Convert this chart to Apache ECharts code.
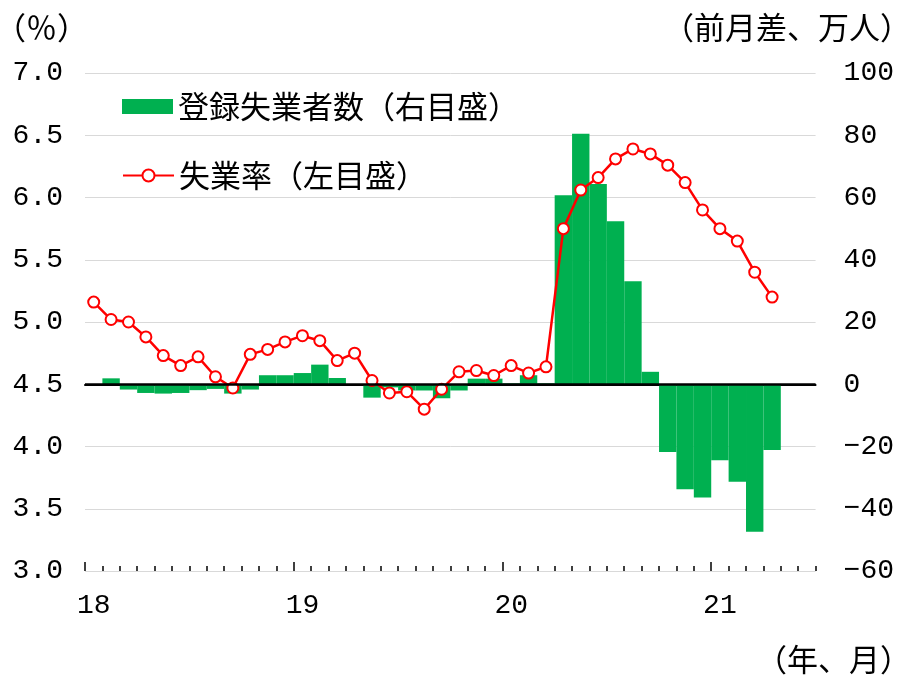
<!DOCTYPE html>
<html>
<head>
<meta charset="utf-8">
<script src="https://cdn.jsdelivr.net/npm/echarts@6/dist/echarts.min.js"></script>
<style>
  html, body { margin: 0; padding: 0; background: #fff; }
  #chart { width: 897px; height: 677px; }
</style>
</head>
<body>
<div id="chart"></div>
<script>
// 月（カテゴリ）
const months = [
  '18/1', '18/2', '18/3', '18/4', '18/5', '18/6', '18/7', '18/8', '18/9', '18/10', '18/11', '18/12',
  '19/1', '19/2', '19/3', '19/4', '19/5', '19/6', '19/7', '19/8', '19/9', '19/10', '19/11', '19/12',
  '20/1', '20/2', '20/3', '20/4', '20/5', '20/6', '20/7', '20/8', '20/9', '20/10', '20/11', '20/12',
  '21/1', '21/2', '21/3', '21/4', '21/5', '21/6'
];

// 登録失業者数（前月差、万人）右目盛
const registered = [
  0, 1.9, -1.7, -2.8, -3.0, -2.8, -1.9, -1.5, -3.0, -1.7, 2.9, 2.9,
  3.6, 6.3, 2.0, 0, -4.3, -1.0, -2.0, -2.0, -4.5, -2.0, 1.8, 1.8,
  0.3, 2.9, 0.3, 60.7, 80.5, 64.3, 52.4, 33.1, 4.0, -21.8, -33.7, -36.4,
  -24.4, -31.3, -47.4, -21.1
];

// 失業率（%）左目盛
const rate = [
  5.16, 5.02, 5.00, 4.88, 4.73, 4.65, 4.72, 4.56, 4.47, 4.74, 4.78, 4.84,
  4.89, 4.85, 4.69, 4.75, 4.53, 4.43, 4.44, 4.30, 4.46, 4.60, 4.61, 4.57,
  4.65, 4.59, 4.64, 5.75, 6.06, 6.16, 6.31, 6.39, 6.35, 6.26, 6.12, 5.90,
  5.75, 5.65, 5.40, 5.20
];

const leftAxis = { min: 3, max: 7, interval: 0.5 };
const rightAxis = { min: -60, max: 100, interval: 20 };

const jpFont = '"Noto Sans CJK JP"';
const numFont = '"Liberation Mono"';

var myChart = echarts.init(document.getElementById('chart'));

// 月ごとの小さい目盛
var minorTickAxis = {
  type: 'category',
  data: months,
  position: 'bottom',
  boundaryGap: true,
  axisLine: { show: false },
  axisLabel: { show: false },
  splitLine: { show: false },
  axisTick: {
    show: true, inside: true, length: 5,
    interval: function () { return true; },
    lineStyle: { color: '#000', width: 1.5 }
  }
};

// 年の区切りの長い目盛（右端に長い目盛が出ないよう反転させて使う）
var majorTickAxis = {
  type: 'category',
  data: months,
  position: 'bottom',
  inverse: true,
  boundaryGap: true,
  axisLine: { show: false },
  axisLabel: { show: false },
  splitLine: { show: false },
  axisTick: {
    show: true, inside: true, length: 9,
    interval: function (i) { return i % 12 === 6; },
    lineStyle: { color: '#000', width: 1.5 }
  }
};

var option = {
  animation: false,
  backgroundColor: '#fff',
  grid: { left: 85, right: 77, top: 73, bottom: 106, containLabel: false },
  legend: [
    {
      data: [{ name: '登録失業者数（右目盛）', icon: 'rect' }],
      left: 122, top: 91, padding: 0,
      itemWidth: 51, itemHeight: 15, itemGap: 0,
      textStyle: { fontFamily: jpFont, fontSize: 31, color: '#000', lineHeight: 31 }
    },
    {
      data: ['失業率（左目盛）'],
      left: 122, top: 160, padding: 0,
      itemWidth: 51, itemHeight: 15, itemGap: 0,
      textStyle: { fontFamily: jpFont, fontSize: 31, color: '#000', lineHeight: 31 }
    }
  ],
  xAxis: [
    {
      type: 'category',
      data: months,
      boundaryGap: true,
      axisLine: { show: true, lineStyle: { color: '#000', width: 2 } },
      axisTick: { show: false },
      axisLabel: {
        interval: function (i) { return i % 12 === 0; },
        formatter: function (v) { return v.split('/')[0]; },
        fontFamily: numFont, fontSize: 28, color: '#000',
        margin: 21
      },
      splitLine: { show: false }
    },
    minorTickAxis,
    majorTickAxis
  ],
  yAxis: [
    {
      type: 'value',
      min: leftAxis.min, max: leftAxis.max, interval: leftAxis.interval,
      axisLine: { show: false },
      axisTick: { show: false },
      axisLabel: {
        formatter: function (v) { return v.toFixed(1); },
        fontFamily: numFont, fontSize: 28, color: '#000', margin: 22
      },
      splitLine: { show: true, lineStyle: { color: '#d9d9d9', width: 1 } }
    },
    {
      type: 'value',
      position: 'right',
      min: rightAxis.min, max: rightAxis.max, interval: rightAxis.interval,
      axisLine: { show: false },
      axisTick: { show: false },
      axisLabel: {
        formatter: function (v) { return v < 0 ? '\u2212' + Math.abs(v) : String(v); },
        fontFamily: numFont, fontSize: 28, color: '#000', margin: 28, align: 'left'
      },
      splitLine: { show: false }
    }
  ],
  series: [
    {
      name: '登録失業者数（右目盛）',
      type: 'bar',
      xAxisIndex: 0,
      yAxisIndex: 1,
      data: registered,
      barWidth: '100%',
      barCategoryGap: '0%',
      itemStyle: { color: '#00b050' },
      z: 2,
      markLine: {
        silent: true,
        symbol: 'none',
        label: { show: false },
        lineStyle: { color: '#000', width: 2.5, type: 'solid' },
        data: [{ yAxis: 0 }]
      }
    },
    {
      name: '失業率（左目盛）',
      type: 'line',
      xAxisIndex: 0,
      yAxisIndex: 0,
      data: rate,
      symbol: 'circle',
      symbolSize: 11,
      lineStyle: { color: '#ff0000', width: 2.5 },
      itemStyle: { color: '#fff', borderColor: '#ff0000', borderWidth: 2 },
      z: 4
    }
  ],
  graphic: [
    {
      type: 'text', x: -5, y: 27,
      style: { text: '（％）', font: '31px ' + jpFont, fill: '#000', align: 'left', verticalAlign: 'middle' }
    },
    {
      type: 'text', x: 911, y: 27,
      style: { text: '（前月差、万人）', font: '31px ' + jpFont, fill: '#000', align: 'right', verticalAlign: 'middle' }
    },
    {
      type: 'text', x: 911, y: 659,
      style: { text: '（年、月）', font: '31px ' + jpFont, fill: '#000', align: 'right', verticalAlign: 'middle' }
    }
  ]
};

myChart.setOption(option);
</script>
</body>
</html>
